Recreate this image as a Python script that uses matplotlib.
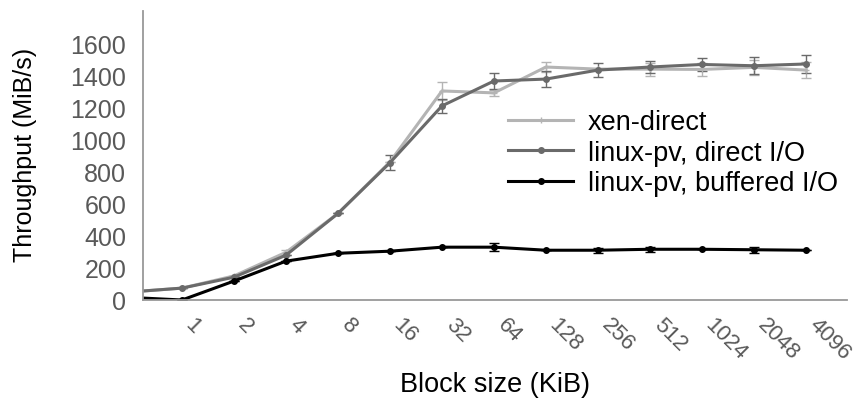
import matplotlib.pyplot as plt
import matplotlib.transforms as mtransforms
from matplotlib.lines import Line2D
import numpy as np

plt.rcParams["font.family"] = ["Liberation Sans", "DejaVu Sans"]

block_sizes = ["0.5", "1", "2", "4", "8", "16", "32", "64", "128", "256", "512", "1024", "2048", "4096"]

xen_direct = [50, 74, 150, 297, 539, 860, 1302, 1290, 1451, 1438, 1438, 1436, 1449, 1432]
xen_direct_err = [0, 0, 0, 15, 0, 0, 55, 20, 31, 0, 40, 40, 45, 48]

pv_direct = [50, 74, 142, 279, 539, 855, 1209, 1364, 1376, 1432, 1451, 1467, 1459, 1470]
pv_direct_err = [0, 0, 0, 0, 0, 48, 43, 52, 50, 43, 35, 38, 54, 59]

pv_buffered = [16, 0, 118, 242, 291, 304, 329, 329, 310, 310, 316, 316, 313, 310]
pv_buffered_err = [0, 0, 0, 0, 0, 0, 0, 25, 0, 15, 15, 0, 18, 0]

series = [
    ("xen-direct", xen_direct, xen_direct_err, "#b4b4b4", "+"),
    ("linux-pv, direct I/O", pv_direct, pv_direct_err, "#6a6a6a", "o"),
    ("linux-pv, buffered I/O", pv_buffered, pv_buffered_err, "#000000", "o"),
]

fig = plt.figure(figsize=(8.59, 4.02), dpi=100)
ax = fig.add_axes([143 / 859, 1 - 301 / 402, (847 - 143) / 859, (301 - 12) / 402])

x = np.arange(len(block_sizes))
handles = []
for label, vals, err, color, marker in series:
    ax.errorbar(x, vals, yerr=err, color=color, linewidth=2.2, marker=marker,
                markersize=4, elinewidth=1, capsize=3.5)
    handles.append(Line2D([], [], color=color, linewidth=2.2, marker=marker,
                          markersize=4, label=label))

ax.set_xlim(0.25, 13.79)
ax.set_ylim(0, 1800)
ax.set_yticks(range(0, 1601, 200))
ax.set_xticks(x[1:])
ax.set_xticklabels([])
ax.tick_params(axis="x", length=0)
ax.tick_params(axis="y", length=0, labelsize=18, labelcolor="#595959", pad=12)

# slanted category labels, set a little right of and below each tick
label_trans = ax.get_xaxis_transform() + mtransforms.ScaledTranslation(
    14 / 100, -14 / 100, fig.dpi_scale_trans)
for xi, name in zip(x[1:], block_sizes[1:]):
    ax.text(xi, 0, name, transform=label_trans, rotation=-45, ha="left", va="top",
            rotation_mode="anchor", fontsize=16, color="#595959")

for side in ("top", "right"):
    ax.spines[side].set_visible(False)
for side in ("left", "bottom"):
    ax.spines[side].set_color("#999999")
    ax.spines[side].set_linewidth(1.3)

ax.set_ylabel("Throughput (MiB/s)", fontsize=18)
ax.yaxis.set_label_coords(-0.15, 0.505)
ax.set_xlabel("Block size (KiB)", fontsize=19.5)
ax.xaxis.set_label_coords(0.5, -0.245)

ax.legend(handles=handles, loc="upper left", bbox_to_anchor=(508 / 859, 1 - 110 / 402),
          bbox_transform=fig.transFigure, frameon=False, fontsize=19.5,
          handlelength=2.4, handletextpad=0.55, labelspacing=0.17,
          borderaxespad=0, borderpad=0)

fig.savefig("out.png", dpi=100)
